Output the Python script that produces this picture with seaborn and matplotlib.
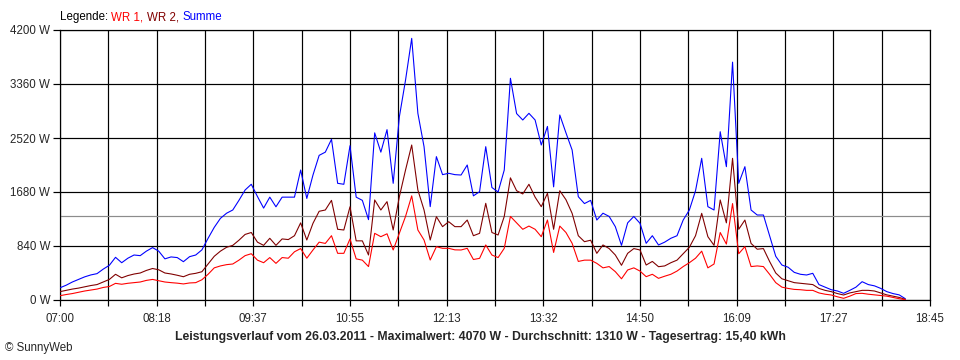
import numpy as np
import pandas as pd
import matplotlib
matplotlib.use("Agg")
import matplotlib.pyplot as plt
import seaborn as sns

# Messwerte alle 5 Minuten ab 07:00 (W)
minuten = np.arange(0, 690, 5)

summe = [190, 230, 280, 320, 360, 390, 410, 480, 540, 664,
         580, 650, 700, 690, 760, 815, 760, 640, 670, 660,
         596, 674, 700, 780, 960, 1130, 1270, 1350, 1400, 1550,
         1711, 1800, 1610, 1430, 1600, 1450, 1600, 1600, 1600, 2022,
         1580, 1944, 2250, 2300, 2500, 1815, 1800, 2400, 1600, 1550,
         1250, 2600, 2300, 2650, 1815, 2850, 3420, 4070, 2904, 2385,
         1452, 2230, 1950, 1971, 1950, 1944, 2100, 1620, 1685, 2385,
         1750, 1680, 2022, 3449, 2900, 2800, 2904, 2800, 2411, 2700,
         1760, 2878, 2600, 2333, 1607, 1500, 1550, 1244, 1350, 1300,
         1141, 850, 1200, 1300, 1193, 882, 1000, 856, 900, 960,
         1000, 1244, 1400, 1700, 2204, 1452, 1400, 2618, 2074, 3700,
         1815, 2074, 1400, 1322, 1322, 1000, 680, 544, 510, 430,
         400, 389, 415, 240, 200, 160, 140, 104, 150, 200,
         285, 240, 220, 181, 130, 100, 80, 20]

wr2 = [130, 150, 170, 185, 205, 225, 240, 280, 320, 400,
       345, 380, 404, 420, 460, 490, 470, 420, 405, 385,
       362, 400, 415, 440, 560, 680, 760, 820, 850, 930,
       1020, 1050, 900, 850, 960, 850, 950, 940, 1000, 1200,
       933, 1193, 1380, 1400, 1550, 1100, 1089, 1450, 920, 920,
       700, 1556, 1400, 1530, 1089, 1607, 2022, 2411, 1711, 1400,
       933, 1296, 1141, 1218, 1141, 1141, 1244, 1000, 1037, 1504,
       1050, 1011, 1300, 1900, 1700, 1650, 1800, 1600, 1452, 1660,
       1100, 1700, 1560, 1348, 1000, 907, 930, 726, 856, 800,
       700, 540, 726, 800, 778, 544, 600, 518, 530, 580,
       620, 720, 820, 1000, 1348, 985, 850, 1556, 1200, 2204,
       1100, 1244, 880, 790, 800, 600, 420, 330, 300, 270,
       260, 250, 240, 180, 150, 130, 100, 78, 110, 130,
       150, 150, 140, 110, 80, 60, 40, 10]

wr1 = [67, 85, 100, 120, 140, 155, 170, 195, 210, 259,
       245, 260, 270, 280, 305, 320, 300, 280, 270, 262,
       250, 265, 270, 315, 400, 500, 530, 550, 560, 620,
       690, 720, 620, 580, 660, 570, 660, 650, 750, 800,
       650, 778, 900, 880, 1000, 726, 726, 950, 640, 620,
       520, 1037, 985, 1030, 778, 1037, 1300, 1620, 1089, 933,
       622, 829, 804, 804, 780, 778, 804, 630, 648, 856,
       700, 660, 804, 1300, 1200, 1100, 1150, 1100, 985, 1244,
       740, 1150, 1050, 882, 600, 620, 620, 570, 500, 520,
       441, 330, 467, 500, 450, 363, 400, 337, 370, 400,
       450, 520, 580, 650, 760, 500, 560, 1050, 870, 1500,
       720, 830, 520, 530, 520, 400, 270, 200, 180, 165,
       160, 150, 150, 110, 90, 78, 50, 26, 60, 100,
       104, 90, 80, 70, 60, 40, 20, 5]

durchschnitt = 1310
zeit_labels = ["07:00", "08:18", "09:37", "10:55", "12:13",
               "13:32", "14:50", "16:09", "17:27", "18:45"]
y_werte = [0, 840, 1680, 2520, 3360, 4200]
y_labels = ["0 W", "840 W", "1680 W", "2520 W", "3360 W", "4200 W"]

sns.set_style("white")
plt.rcParams["font.family"] = ["Liberation Sans", "DejaVu Sans"]

px = 0.72  # 1 Pixel in Punkt bei 100 dpi
fig = plt.figure(figsize=(9.6, 3.6), dpi=100)
ax = fig.add_axes([60 / 960, 60 / 360, 870 / 960, 270 / 360])

df = pd.DataFrame({"Minute": minuten, "Summe": summe, "WR 2": wr2, "WR 1": wr1})
lang = df.melt(id_vars="Minute", var_name="Serie", value_name="Leistung")
farben = {"Summe": "#0000FF", "WR 2": "#800000", "WR 1": "#FF0000"}
sns.lineplot(data=lang, x="Minute", y="Leistung", hue="Serie",
             hue_order=["Summe", "WR 2", "WR 1"], palette=farben,
             linewidth=1.1 * px, legend=False, ax=ax, zorder=3)

ax.axhline(durchschnitt, color="#8c8c8c", linewidth=1.2 * px, zorder=2)

# Raster: 18 Felder, Beschriftung jedes zweite
gitter = np.linspace(0, 705, 19)
ax.set_xticks(gitter)
ax.set_xticklabels([zeit_labels[i // 2] if i % 2 == 0 else "" for i in range(19)])
ax.set_yticks(y_werte)
ax.set_yticklabels(y_labels)
ax.set_xlim(0, 705)
ax.set_ylim(0, 4200)
ax.grid(True, color="black", linewidth=1.2 * px, zorder=1)
ax.set_axisbelow(True)
for s in ax.spines.values():
    s.set_color("black")
    s.set_linewidth(1.2 * px)
ax.tick_params(axis="x", length=4, width=1.2 * px, color="black",
               labelsize=8.3, pad=5, direction="out", bottom=True)
ax.tick_params(axis="y", length=5, width=1.2 * px, color="black",
               labelsize=8.3, pad=2, direction="out", left=True)
ax.set_xlabel("")
ax.set_ylabel("")

fig.text(0.5, 1 - 337 / 360,
         "Leistungsverlauf vom 26.03.2011 - Maximalwert: 4070 W - "
         "Durchschnitt: 1310 W - Tagesertrag: 15,40 kWh",
         ha="center", va="center", fontsize=8.85, fontweight="bold")
fig.text(5 / 960, 1 - 348 / 360, "© SunnyWeb", ha="left", va="center", fontsize=8.3)

# Legende oben links, farbige Textstücke nacheinander
renderer = fig.canvas.get_renderer()
x_pos = 60
for teil, farbe in [("Legende: ", "black"), ("WR 1, ", "#FF0000"),
                    ("WR 2, ", "#800000"), ("Summe", "#0000FF")]:
    t = fig.text(x_pos / 960, 1 - 17 / 360, teil, color=farbe,
                 ha="left", va="center", fontsize=8.3)
    x_pos += t.get_window_extent(renderer).width

fig.savefig("out.png", dpi=100)
